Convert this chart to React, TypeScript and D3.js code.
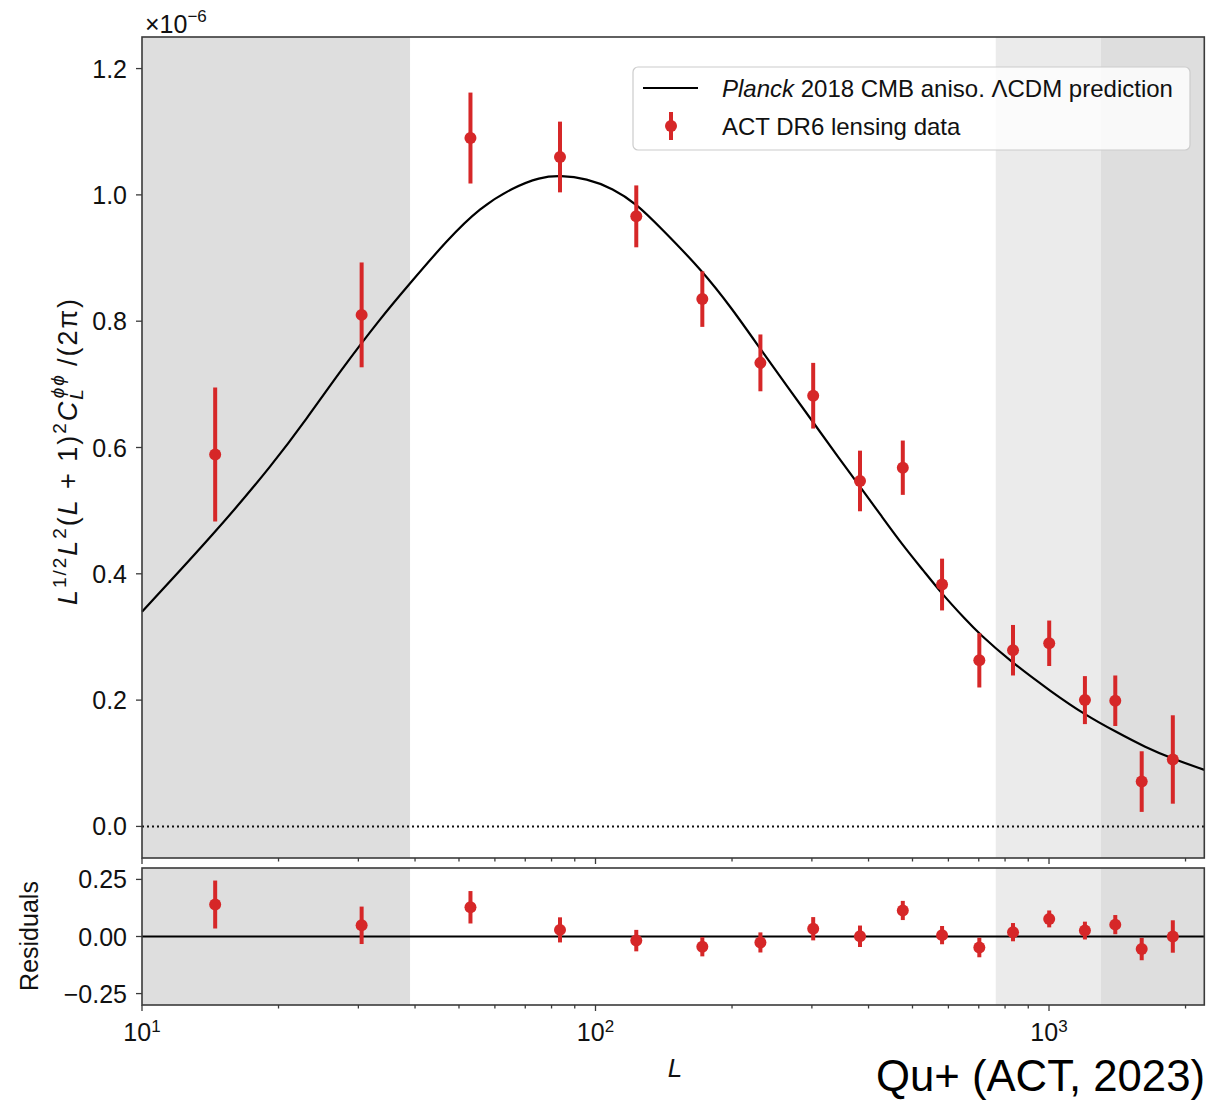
import React, { useEffect } from 'react';
import * as d3 from 'd3';

// ---- data ----
const binL = [14.5, 30.5, 53, 83.5, 123, 172, 231, 302, 383, 476, 581, 702, 833, 1001, 1200, 1400, 1601, 1875];
const dataVal = [0.589, 0.81, 1.09, 1.06, 0.966, 0.835, 0.734, 0.682, 0.547, 0.568, 0.383, 0.263, 0.279, 0.29, 0.2, 0.199, 0.071, 0.106];
const dataErr = [0.106, 0.083, 0.072, 0.056, 0.049, 0.044, 0.045, 0.052, 0.048, 0.043, 0.041, 0.043, 0.04, 0.036, 0.038, 0.04, 0.048, 0.07];
const residVal = [0.14, 0.049, 0.128, 0.029, -0.018, -0.045, -0.026, 0.034, 0.001, 0.114, 0.006, -0.048, 0.019, 0.077, 0.026, 0.052, -0.055, 0.0];
const residErr = [0.105, 0.082, 0.071, 0.055, 0.047, 0.042, 0.044, 0.051, 0.047, 0.042, 0.04, 0.043, 0.04, 0.037, 0.039, 0.042, 0.049, 0.071];
const theoryL = [10, 14.5, 19.5, 23.1, 27.3, 33.5, 39, 47, 55.6, 65.9, 75.4, 83.5, 95.6, 109.4, 123, 138.8, 172, 200, 231, 265, 302, 343.5, 383, 426.6, 475, 530, 581, 657.5, 702, 817, 1012, 1205, 1403, 1633, 1875, 2200];
const theoryVal = [0.34, 0.465, 0.575, 0.646, 0.72, 0.804, 0.86, 0.928, 0.98, 1.012, 1.028, 1.031, 1.026, 1.01, 0.986, 0.949, 0.88, 0.82, 0.756, 0.696, 0.64, 0.584, 0.538, 0.492, 0.446, 0.404, 0.368, 0.326, 0.305, 0.263, 0.213, 0.176, 0.15, 0.125, 0.107, 0.0896];
const mainYTicks = [0, 0.2, 0.4, 0.6, 0.8, 1.0, 1.2];
const residYTicks = [-0.25, 0, 0.25];
const residYTickLabels = ['\u22120.25', '0.00', '0.25'];
const xMajorTicks = [10, 100, 1000];
const xMajorExps = ['1', '2', '3'];
const shadeLeft = [10, 39];
const shadeMid = [763, 1300];
const shadeRight = [1300, 2200];

const RED = '#d62728';
const FONT = '"Liberation Sans", Arial, sans-serif';

export default function App() {
  useEffect(() => {
    document.body.style.margin = '0';
  }, []);

  const left = 142, right = 1204.3;
  const mainTop = 37, mainBottom = 858;
  const resTop = 868, resBottom = 1005;

  const x = d3.scaleLog().domain([10, 2200]).range([left, right]);
  const yM = d3.scaleLinear().domain([-0.05, 1.25]).range([mainBottom, mainTop]);
  const yR = d3.scaleLinear().domain([-0.3, 0.3]).range([resBottom, resTop]);

  const minorTicks: number[] = [];
  for (const d of [10, 100, 1000]) for (let k = 2; k <= 9; k++) if (d * k <= 2200) minorTicks.push(d * k);

  const line = d3
    .line<number>()
    .x((_, i) => x(theoryL[i]))
    .y((v) => yM(v))
    .curve(d3.curveBasis);

  const spine = '#3a3a3a';

  const shades = (top: number, bottom: number) => (
    <g>
      <rect x={x(shadeLeft[0])} y={top} width={x(shadeLeft[1]) - x(shadeLeft[0])} height={bottom - top} fill="#dedede" />
      <rect x={x(shadeMid[0])} y={top} width={x(shadeMid[1]) - x(shadeMid[0])} height={bottom - top} fill="#ebebeb" />
      <rect x={x(shadeRight[0])} y={top} width={x(shadeRight[1]) - x(shadeRight[0])} height={bottom - top} fill="#dedede" />
    </g>
  );

  const xTicks = (bottom: number) => (
    <g stroke={spine} strokeWidth={1.3}>
      {xMajorTicks.map((t) => (
        <line key={'M' + t} x1={x(t)} x2={x(t)} y1={bottom} y2={bottom + 6} />
      ))}
      {minorTicks.map((t) => (
        <line key={'m' + t} x1={x(t)} x2={x(t)} y1={bottom} y2={bottom + 3.5} />
      ))}
    </g>
  );

  return (
    <svg width={1209} height={1102} style={{ position: 'absolute', left: 0, top: 0, display: 'block' }} fontFamily={FONT}>
      <rect x={0} y={0} width={1209} height={1102} fill="#fff" />
      {/* main panel */}
      {shades(mainTop, mainBottom)}
      <line x1={left} x2={right} y1={yM(0)} y2={yM(0)} stroke="#111" strokeWidth={2} strokeDasharray="2,3" />
      <path d={line(theoryVal) || ''} fill="none" stroke="#000" strokeWidth={2.2} />
      {binL.map((L, i) => (
        <g key={'d' + i}>
          <line x1={x(L)} x2={x(L)} y1={yM(dataVal[i] - dataErr[i])} y2={yM(dataVal[i] + dataErr[i])} stroke={RED} strokeWidth={4} />
          <circle cx={x(L)} cy={yM(dataVal[i])} r={6} fill={RED} />
        </g>
      ))}
      <rect x={left} y={mainTop} width={right - left} height={mainBottom - mainTop} fill="none" stroke={spine} strokeWidth={1.6} />
      {mainYTicks.map((t) => (
        <g key={'yt' + t}>
          <line x1={left - 6} x2={left} y1={yM(t)} y2={yM(t)} stroke={spine} strokeWidth={1.3} />
          <text x={127} y={yM(t)} dy="0.36em" textAnchor="end" fontSize={25} fill="#111">
            {t.toFixed(1)}
          </text>
        </g>
      ))}
      {xTicks(mainBottom)}
      <text x={145} y={33} fontSize={25} fill="#111">
        {'\u00d710'}
        <tspan dy={-11} fontSize={17}>
          {'\u22126'}
        </tspan>
      </text>
      {/* y label */}
      <text transform={`translate(77,452) rotate(-90)`} textAnchor="middle" fontSize={27} fill="#111" textLength={306} lengthAdjust="spacing">
        <tspan fontStyle="italic">L</tspan>
        <tspan dy={-11} fontSize={19}>1/2</tspan>
        <tspan dy={11} fontStyle="italic">L</tspan>
        <tspan dy={-11} fontSize={19}>2</tspan>
        <tspan dy={11}>(</tspan>
        <tspan fontStyle="italic">L</tspan>
        <tspan>{' + 1)'}</tspan>
        <tspan dy={-11} fontSize={19}>2</tspan>
        <tspan dy={11} fontStyle="italic">C</tspan>
        <tspan dy={6} fontSize={19} fontStyle="italic">L</tspan>
        <tspan dy={-19} dx={-11} fontSize={19} fontStyle="italic">{'\u03d5\u03d5'}</tspan>
        <tspan dy={13}>{'\u2009/(2\u03c0)'}</tspan>
      </text>
      {/* legend */}
      <rect x={633} y={67} width={557} height={83} rx={5} fill="#fff" fillOpacity={0.8} stroke="#cccccc" strokeWidth={1.2} />
      <line x1={643} x2={698} y1={88} y2={88} stroke="#000" strokeWidth={2.2} />
      <line x1={671} x2={671} y1={112} y2={140} stroke={RED} strokeWidth={4} />
      <circle cx={671} cy={126} r={6} fill={RED} />
      <text x={722} y={97} fontSize={24} fill="#111">
        <tspan fontStyle="italic">Planck</tspan>
        <tspan>{' 2018 CMB aniso. \u039bCDM prediction'}</tspan>
      </text>
      <text x={722} y={135} fontSize={24} fill="#111">
        ACT DR6 lensing data
      </text>

      {/* residual panel */}
      {shades(resTop, resBottom)}
      <line x1={left} x2={right} y1={yR(0)} y2={yR(0)} stroke="#000" strokeWidth={2} />
      {binL.map((L, i) => (
        <g key={'r' + i}>
          <line x1={x(L)} x2={x(L)} y1={yR(residVal[i] - residErr[i])} y2={yR(residVal[i] + residErr[i])} stroke={RED} strokeWidth={4} />
          <circle cx={x(L)} cy={yR(residVal[i])} r={6} fill={RED} />
        </g>
      ))}
      <rect x={left} y={resTop} width={right - left} height={resBottom - resTop} fill="none" stroke={spine} strokeWidth={1.6} />
      {residYTicks.map((t, i) => (
        <g key={'ry' + t}>
          <line x1={left - 6} x2={left} y1={yR(t)} y2={yR(t)} stroke={spine} strokeWidth={1.3} />
          <text x={127} y={yR(t)} dy="0.36em" textAnchor="end" fontSize={25} fill="#111">
            {residYTickLabels[i]}
          </text>
        </g>
      ))}
      {xTicks(resBottom)}
      {xMajorTicks.map((t, i) => (
        <text key={'xl' + t} x={x(t)} y={1041} textAnchor="middle" fontSize={25} fill="#111">
          10
          <tspan dy={-9} fontSize={17}>
            {xMajorExps[i]}
          </tspan>
        </text>
      ))}
      <text transform="translate(38,936) rotate(-90)" textAnchor="middle" fontSize={25} fill="#111">
        Residuals
      </text>
      <text x={675} y={1077} textAnchor="middle" fontSize={26} fontStyle="italic" fill="#111">
        L
      </text>
      <text x={1205} y={1091} textAnchor="end" fontSize={44} fill="#000" textLength={329} lengthAdjust="spacingAndGlyphs">
        Qu+ (ACT, 2023)
      </text>
    </svg>
  );
}
